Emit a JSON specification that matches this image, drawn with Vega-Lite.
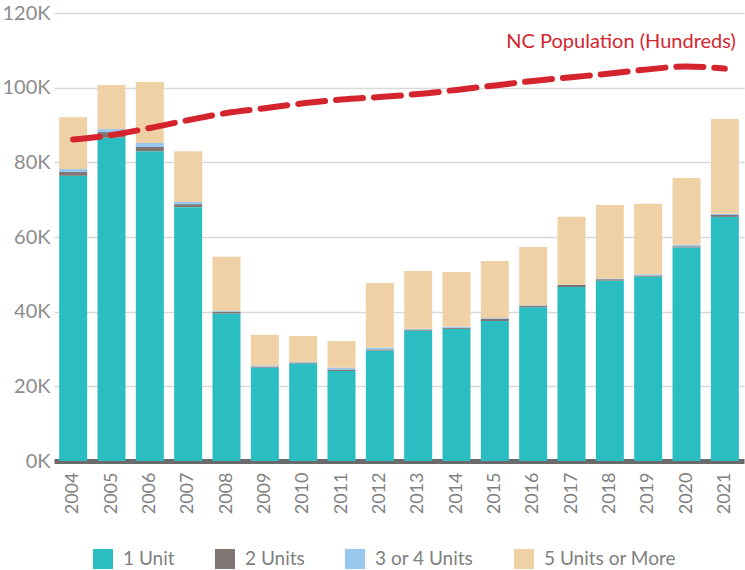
{
  "$schema": "https://vega.github.io/schema/vega-lite/v6.json",
  "autosize": {"type": "none"},
  "padding": {"left": 54, "top": 13, "right": 1, "bottom": 109},
  "width": 690,
  "height": 448,
  "background": "white",
  "config": {
    "view": {"stroke": null},
    "font": "Lato",
    "axis": {"labelFont": "Lato", "labelColor": "#8a8a8a"},
    "legend": {"labelFont": "Lato"}
  },
  "datasets": {
    "permits": [
      {"year": "2004", "type": "1 Unit", "value": 76400}, {"year": "2004", "type": "2 Units", "value": 1000}, {"year": "2004", "type": "3 or 4 Units", "value": 800}, {"year": "2004", "type": "5 Units or More", "value": 13900},
      {"year": "2005", "type": "1 Unit", "value": 86600}, {"year": "2005", "type": "2 Units", "value": 1500}, {"year": "2005", "type": "3 or 4 Units", "value": 800}, {"year": "2005", "type": "5 Units or More", "value": 11800},
      {"year": "2006", "type": "1 Unit", "value": 83000}, {"year": "2006", "type": "2 Units", "value": 1100}, {"year": "2006", "type": "3 or 4 Units", "value": 1100}, {"year": "2006", "type": "5 Units or More", "value": 16300},
      {"year": "2007", "type": "1 Unit", "value": 68000}, {"year": "2007", "type": "2 Units", "value": 800}, {"year": "2007", "type": "3 or 4 Units", "value": 600}, {"year": "2007", "type": "5 Units or More", "value": 13600},
      {"year": "2008", "type": "1 Unit", "value": 39500}, {"year": "2008", "type": "2 Units", "value": 500}, {"year": "2008", "type": "3 or 4 Units", "value": 200}, {"year": "2008", "type": "5 Units or More", "value": 14500},
      {"year": "2009", "type": "1 Unit", "value": 25000}, {"year": "2009", "type": "2 Units", "value": 300}, {"year": "2009", "type": "3 or 4 Units", "value": 300}, {"year": "2009", "type": "5 Units or More", "value": 8200},
      {"year": "2010", "type": "1 Unit", "value": 26100}, {"year": "2010", "type": "2 Units", "value": 300}, {"year": "2010", "type": "3 or 4 Units", "value": 200}, {"year": "2010", "type": "5 Units or More", "value": 6900},
      {"year": "2011", "type": "1 Unit", "value": 24100}, {"year": "2011", "type": "2 Units", "value": 400}, {"year": "2011", "type": "3 or 4 Units", "value": 500}, {"year": "2011", "type": "5 Units or More", "value": 7100},
      {"year": "2012", "type": "1 Unit", "value": 29600}, {"year": "2012", "type": "2 Units", "value": 300}, {"year": "2012", "type": "3 or 4 Units", "value": 500}, {"year": "2012", "type": "5 Units or More", "value": 17300},
      {"year": "2013", "type": "1 Unit", "value": 34900}, {"year": "2013", "type": "2 Units", "value": 300}, {"year": "2013", "type": "3 or 4 Units", "value": 200}, {"year": "2013", "type": "5 Units or More", "value": 15500},
      {"year": "2014", "type": "1 Unit", "value": 35400}, {"year": "2014", "type": "2 Units", "value": 300}, {"year": "2014", "type": "3 or 4 Units", "value": 300}, {"year": "2014", "type": "5 Units or More", "value": 14600},
      {"year": "2015", "type": "1 Unit", "value": 37500}, {"year": "2015", "type": "2 Units", "value": 600}, {"year": "2015", "type": "3 or 4 Units", "value": 200}, {"year": "2015", "type": "5 Units or More", "value": 15300},
      {"year": "2016", "type": "1 Unit", "value": 41200}, {"year": "2016", "type": "2 Units", "value": 400}, {"year": "2016", "type": "3 or 4 Units", "value": 100}, {"year": "2016", "type": "5 Units or More", "value": 15600},
      {"year": "2017", "type": "1 Unit", "value": 46600}, {"year": "2017", "type": "2 Units", "value": 600}, {"year": "2017", "type": "3 or 4 Units", "value": 100}, {"year": "2017", "type": "5 Units or More", "value": 18100},
      {"year": "2018", "type": "1 Unit", "value": 48300}, {"year": "2018", "type": "2 Units", "value": 400}, {"year": "2018", "type": "3 or 4 Units", "value": 200}, {"year": "2018", "type": "5 Units or More", "value": 19700},
      {"year": "2019", "type": "1 Unit", "value": 49400}, {"year": "2019", "type": "2 Units", "value": 300}, {"year": "2019", "type": "3 or 4 Units", "value": 300}, {"year": "2019", "type": "5 Units or More", "value": 18900},
      {"year": "2020", "type": "1 Unit", "value": 57200}, {"year": "2020", "type": "2 Units", "value": 300}, {"year": "2020", "type": "3 or 4 Units", "value": 400}, {"year": "2020", "type": "5 Units or More", "value": 17900},
      {"year": "2021", "type": "1 Unit", "value": 65400}, {"year": "2021", "type": "2 Units", "value": 500}, {"year": "2021", "type": "3 or 4 Units", "value": 300}, {"year": "2021", "type": "5 Units or More", "value": 25400}
    ],
    "population": [
      {"year": "2004", "pop": 86100}, {"year": "2005", "pop": 87300}, {"year": "2006", "pop": 89200},
      {"year": "2007", "pop": 91300}, {"year": "2008", "pop": 93200}, {"year": "2009", "pop": 94500},
      {"year": "2010", "pop": 95800}, {"year": "2011", "pop": 96800}, {"year": "2012", "pop": 97500},
      {"year": "2013", "pop": 98300}, {"year": "2014", "pop": 99400}, {"year": "2015", "pop": 100600},
      {"year": "2016", "pop": 101800}, {"year": "2017", "pop": 102800}, {"year": "2018", "pop": 103800},
      {"year": "2019", "pop": 104900}, {"year": "2020", "pop": 105700}, {"year": "2021", "pop": 105100}
    ],
    "label": [
      {"year": "2021", "pop": 112200, "text": "NC Population (Hundreds)"}
    ]
  },
  "encoding": {
    "x": {
      "field": "year", "type": "ordinal",
      "scale": {"paddingInner": 0.27, "paddingOuter": 0.135},
      "axis": {
        "title": null, "labelAngle": 270, "labelAlign": "right", "labelBaseline": "middle",
        "labelFontSize": 18, "labelPadding": 11, "labelColor": "#808080",
        "ticks": false, "domain": true, "domainColor": "#6b6b6b", "domainWidth": 5, "domainCap": "butt"
      }
    }
  },
  "layer": [
    {
      "data": {"name": "permits"},
      "mark": {"type": "bar"},
      "encoding": {
        "y": {
          "field": "value", "type": "quantitative", "stack": "zero",
          "scale": {"domain": [0, 120000]},
          "axis": {
            "title": null, "values": [0, 20000, 40000, 60000, 80000, 100000, 120000],
            "labelExpr": "datum.value / 1000 + 'K'",
            "labelFontSize": 20, "labelPadding": 4, "labelColor": "#8c8c8c",
            "ticks": false, "domain": false,
            "grid": true, "gridColor": "#d9d9d9", "gridWidth": 1.5
          }
        },
        "color": {
          "field": "type", "type": "nominal",
          "scale": {
            "domain": ["1 Unit", "2 Units", "3 or 4 Units", "5 Units or More"],
            "range": ["#2abdc1", "#7f7571", "#98c8f0", "#efd1a5"]
          },
          "legend": {
            "title": null, "orient": "none", "direction": "horizontal",
            "legendX": 39, "legendY": 536,
            "symbolType": "square", "symbolSize": 400, "symbolStrokeWidth": 0,
            "labelFontSize": 19, "labelColor": "#808080", "labelOffset": 10,
            "columnPadding": 40
          }
        },
        "order": {"field": "type", "sort": "ascending"}
      }
    },
    {
      "data": {"name": "population"},
      "mark": {"type": "line", "color": "#d4252f", "strokeWidth": 6, "strokeDash": [27, 11], "strokeCap": "round", "interpolate": "monotone"},
      "encoding": {
        "y": {"field": "pop", "type": "quantitative"}
      }
    },
    {
      "data": {"name": "label"},
      "mark": {"type": "text", "align": "right", "baseline": "middle", "dx": 11, "fontSize": 20, "color": "#d4252f", "font": "Lato"},
      "encoding": {
        "y": {"field": "pop", "type": "quantitative"},
        "text": {"field": "text"}
      }
    }
  ]
}
